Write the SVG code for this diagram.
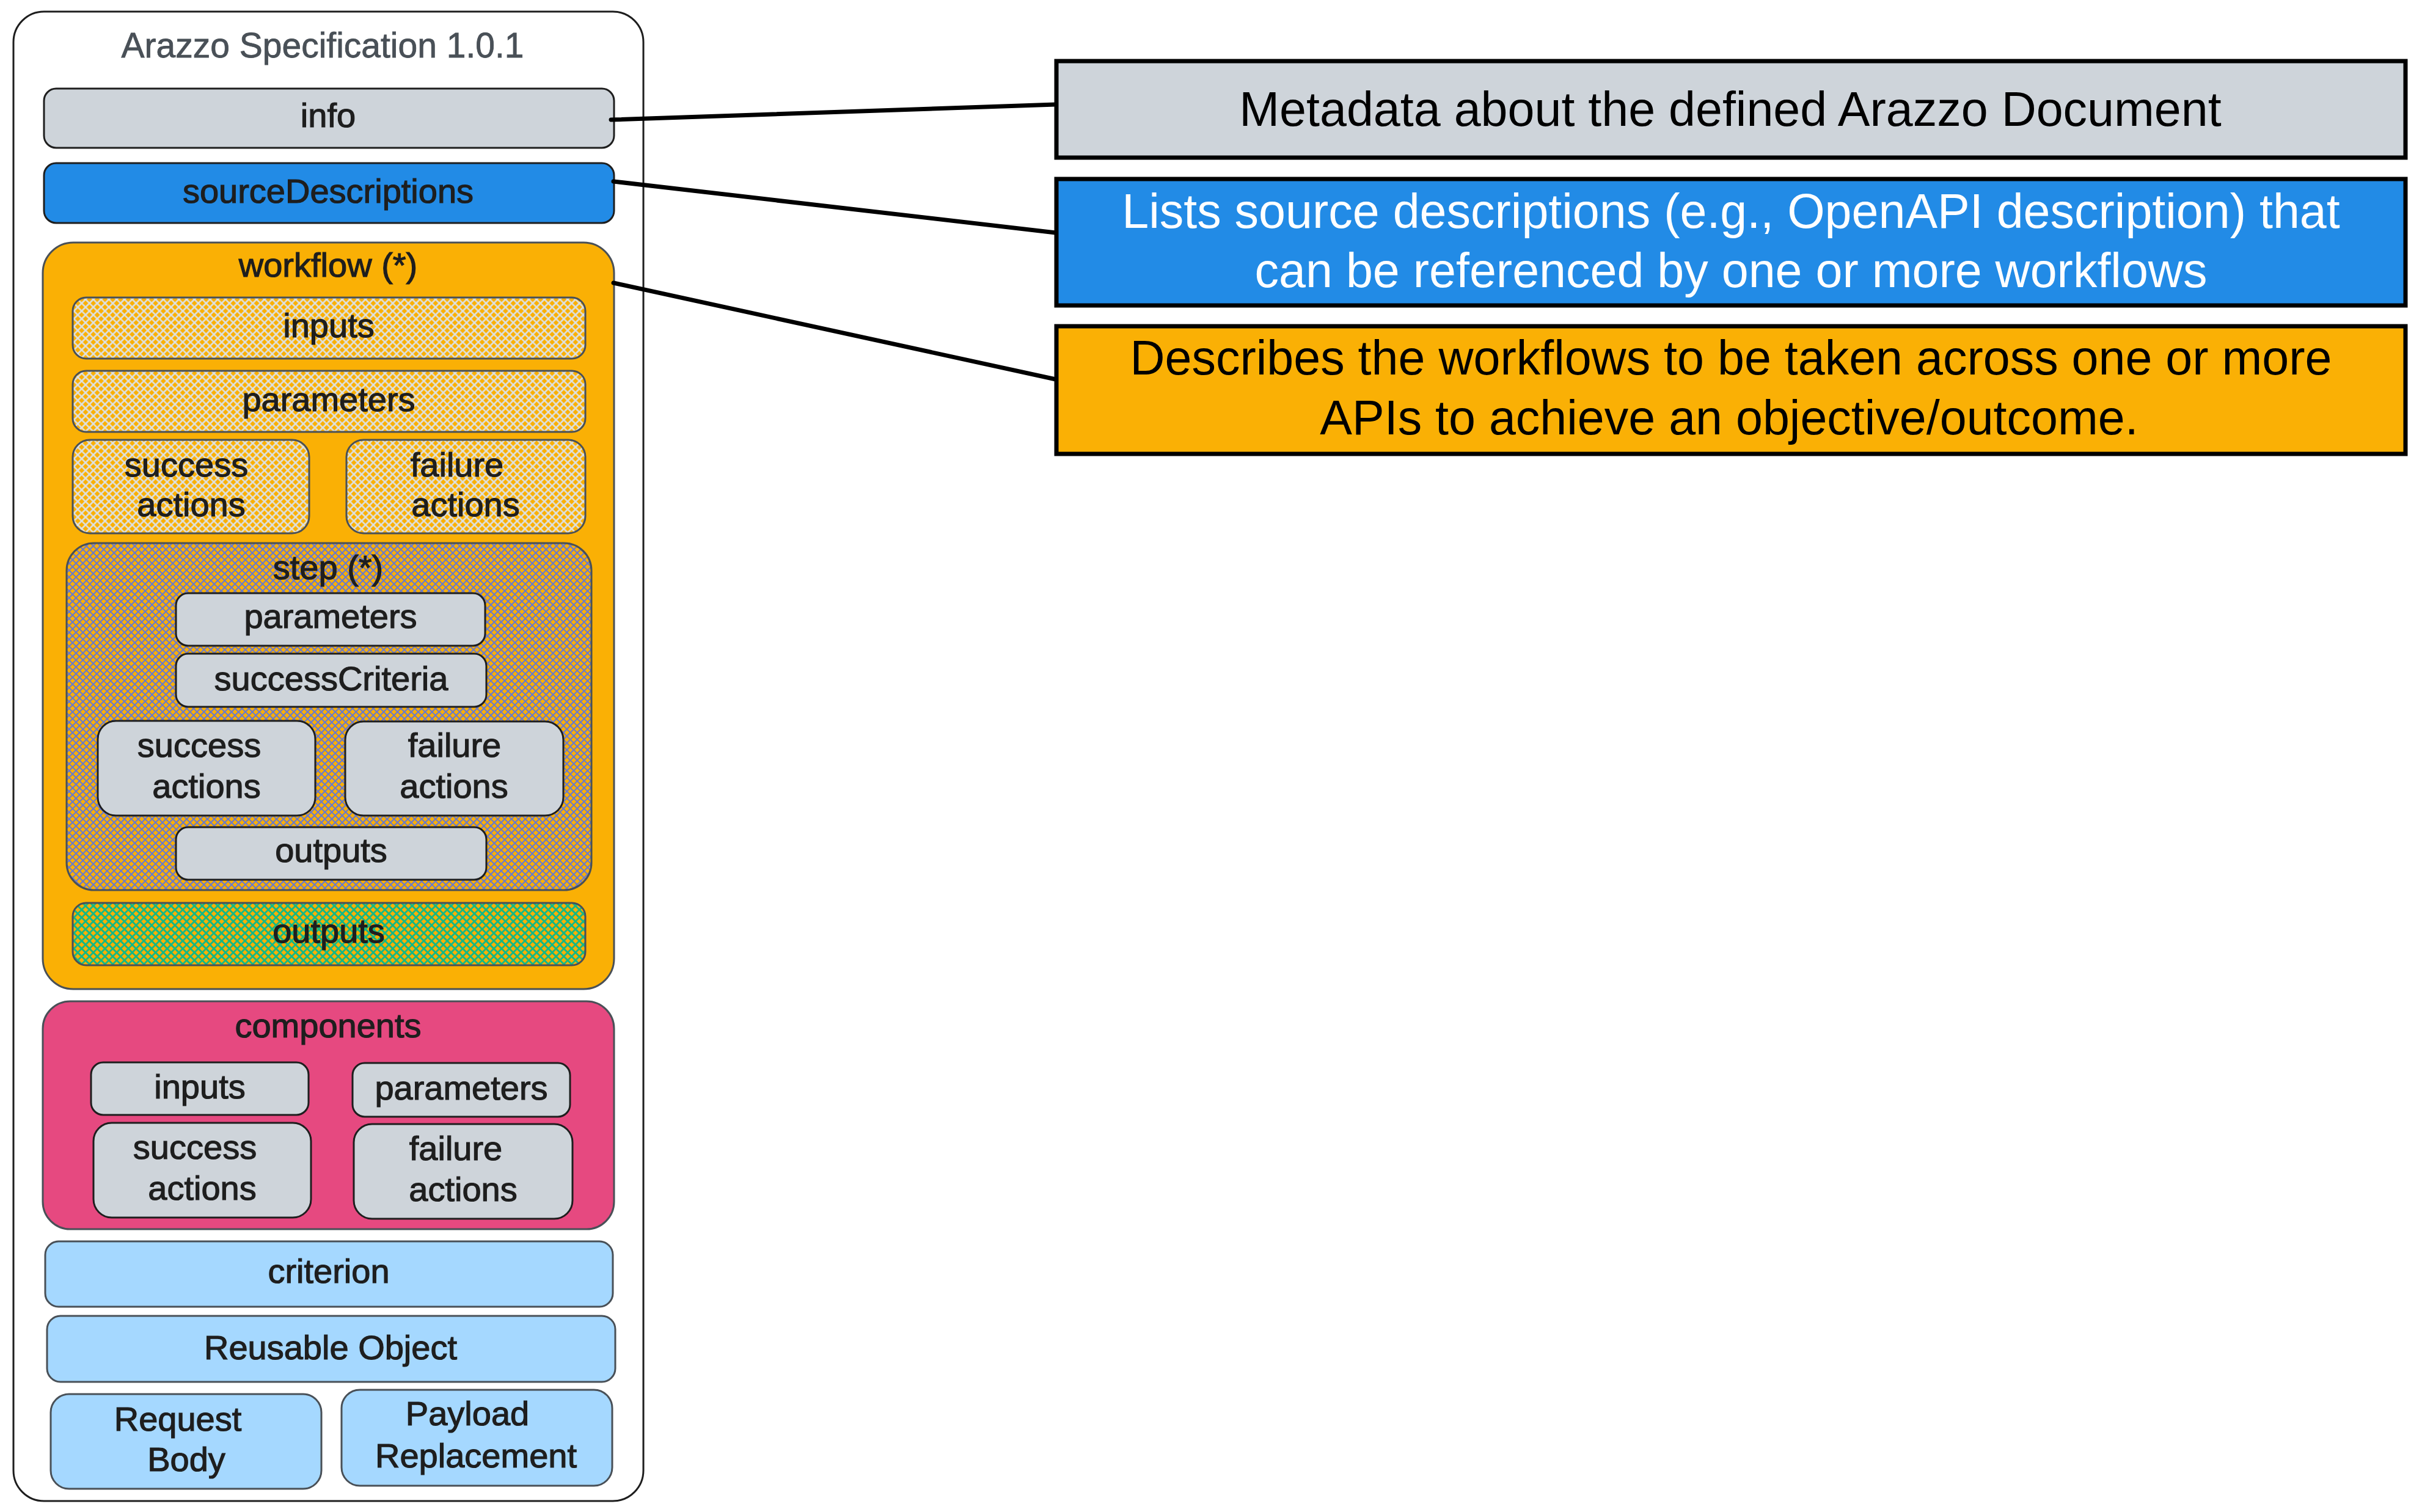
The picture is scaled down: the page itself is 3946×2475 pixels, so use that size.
<svg xmlns="http://www.w3.org/2000/svg" width="3946" height="2475" viewBox="0 0 3946 2475">
<defs>
<style>
.hand{font-family:"Liberation Sans",Arial,sans-serif;font-size:56px;fill:#1e1e1e;stroke:#1e1e1e;stroke-width:1.2;text-anchor:middle}
.title{font-family:"Liberation Sans",Arial,sans-serif;font-size:57px;fill:#495057;stroke:#495057;stroke-width:0.8;text-anchor:middle}
.note{font-family:"Liberation Sans",Arial,sans-serif;font-size:79px;text-anchor:middle}
.box{stroke:#1e1e1e;stroke-width:3}
.hbox{stroke:#495057;stroke-width:3}
.grey{fill:#ced4da}
.blue{fill:#228be6}
.yellow{fill:#fab005}
.pink{fill:#e64980}
.light{fill:#a5d8ff}
.callout{stroke:#000;stroke-width:7}
.conn{stroke:#000;stroke-width:7;fill:none;stroke-linecap:round}
</style>
<pattern id="hatchGrey" width="9" height="9" patternUnits="userSpaceOnUse" patternTransform="rotate(45)">
<rect width="9" height="9" fill="#fab005"/>
<path d="M0 4.5H9M4.5 0V9" stroke="#dde2e6" stroke-width="2.6"/>
</pattern>
<pattern id="hatchBlue" width="8" height="8" patternUnits="userSpaceOnUse" patternTransform="rotate(45)">
<rect width="8" height="8" fill="#fab005"/>
<path d="M0 4H8M4 0V8" stroke="#4c6ef5" stroke-width="2.2" stroke-opacity="0.85"/>
</pattern>
<pattern id="hatchGreen" width="9" height="9" patternUnits="userSpaceOnUse" patternTransform="rotate(45)">
<rect width="9" height="9" fill="#fab005"/>
<path d="M0 4.5H9M4.5 0V9" stroke="#12b886" stroke-width="2.8"/>
</pattern>
</defs>
<rect width="3946" height="2475" fill="#ffffff"/>

<g id="spec">
<rect x="22" y="19" width="1031" height="2438" rx="50" fill="#ffffff" class="box"/>
<text class="title" x="528" y="94">Arazzo Specification 1.0.1</text>
</g>

<g id="info">
<rect x="72" y="145" width="933" height="97" rx="20" class="box grey"/>
<text class="hand" x="537" y="208">info</text>
</g>

<g id="sourceDescriptions">
<rect x="72" y="267" width="933" height="98" rx="20" class="box blue"/>
<text class="hand" x="537" y="332">sourceDescriptions</text>
</g>

<g id="workflow">
<rect x="70" y="397" width="935" height="1222" rx="50" class="hbox yellow"/>
<text class="hand" x="537" y="453">workflow (*)</text>
</g>

<g id="wf-inputs">
<rect x="119" y="487" width="839" height="100" rx="22" class="hbox" fill="url(#hatchGrey)"/>
<text class="hand" x="538" y="552">inputs</text>
</g>

<g id="wf-parameters">
<rect x="119" y="607" width="839" height="100" rx="22" class="hbox" fill="url(#hatchGrey)"/>
<text class="hand" x="538" y="673">parameters</text>
</g>

<g id="wf-success-actions">
<rect x="119" y="720" width="387" height="153" rx="28" class="hbox" fill="url(#hatchGrey)"/>
<text class="hand" x="305" y="780">success</text>
<text class="hand" x="313" y="845">actions</text>
</g>

<g id="wf-failure-actions">
<rect x="567" y="720" width="391" height="153" rx="28" class="hbox" fill="url(#hatchGrey)"/>
<text class="hand" x="748" y="780">failure</text>
<text class="hand" x="762" y="845">actions</text>
</g>

<g id="step">
<rect x="109" y="889" width="859" height="568" rx="45" class="hbox" fill="url(#hatchBlue)"/>
<text class="hand" x="537" y="948">step (*)</text>
</g>

<g id="step-parameters">
<rect x="288" y="971" width="506" height="86" rx="20" class="box grey"/>
<text class="hand" x="541" y="1028">parameters</text>
</g>

<g id="step-successCriteria">
<rect x="288" y="1070" width="508" height="87" rx="20" class="box grey"/>
<text class="hand" x="542" y="1130">successCriteria</text>
</g>

<g id="step-success-actions">
<rect x="160" y="1180" width="356" height="155" rx="30" class="box grey"/>
<text class="hand" x="326" y="1239">success</text>
<text class="hand" x="338" y="1306">actions</text>
</g>

<g id="step-failure-actions">
<rect x="565" y="1181" width="357" height="154" rx="30" class="box grey"/>
<text class="hand" x="744" y="1239">failure</text>
<text class="hand" x="743" y="1306">actions</text>
</g>

<g id="step-outputs">
<rect x="288" y="1354" width="508" height="86" rx="20" class="box grey"/>
<text class="hand" x="542" y="1411">outputs</text>
</g>

<g id="wf-outputs">
<rect x="119" y="1478" width="839" height="102" rx="22" class="hbox" fill="url(#hatchGreen)"/>
<text class="hand" x="538" y="1543">outputs</text>
</g>

<g id="components">
<rect x="70" y="1639" width="935" height="373" rx="45" class="hbox pink"/>
<text class="hand" x="537" y="1698">components</text>
</g>

<g id="comp-inputs">
<rect x="149" y="1739" width="356" height="86" rx="20" class="box grey"/>
<text class="hand" x="327" y="1798">inputs</text>
</g>

<g id="comp-parameters">
<rect x="577" y="1740" width="356" height="88" rx="20" class="box grey"/>
<text class="hand" x="755" y="1800">parameters</text>
</g>

<g id="comp-success-actions">
<rect x="153" y="1838" width="356" height="155" rx="30" class="box grey"/>
<text class="hand" x="319" y="1897">success</text>
<text class="hand" x="331" y="1964">actions</text>
</g>

<g id="comp-failure-actions">
<rect x="579" y="1840" width="358" height="155" rx="30" class="box grey"/>
<text class="hand" x="746" y="1899">failure</text>
<text class="hand" x="758" y="1966">actions</text>
</g>

<g id="criterion">
<rect x="74" y="2032" width="929" height="107" rx="22" class="hbox light"/>
<text class="hand" x="538" y="2100">criterion</text>
</g>

<g id="reusable-object">
<rect x="77" y="2154" width="930" height="108" rx="22" class="hbox light"/>
<text class="hand" x="541" y="2225">Reusable Object</text>
</g>

<g id="request-body">
<rect x="83" y="2282" width="443" height="155" rx="30" class="hbox light"/>
<text class="hand" x="291" y="2342">Request</text>
<text class="hand" x="305" y="2408">Body</text>
</g>

<g id="payload-replacement">
<rect x="559" y="2275" width="443" height="157" rx="30" class="hbox light"/>
<text class="hand" x="765" y="2333">Payload</text>
<text class="hand" x="779" y="2402">Replacement</text>
</g>

<g id="note-info">
<rect x="1729" y="100" width="2208" height="158" class="callout grey"/>
<text class="note" x="2832" y="206" fill="#000000">Metadata about the defined Arazzo Document</text>
</g>

<g id="note-sourceDescriptions">
<rect x="1729" y="293" width="2208" height="207" class="callout blue"/>
<text class="note" x="2833" y="373" fill="#ffffff">Lists source descriptions (e.g., OpenAPI description) that</text>
<text class="note" x="2833" y="470" fill="#ffffff">can be referenced by one or more workflows</text>
</g>

<g id="note-workflow">
<rect x="1729" y="534" width="2208" height="209" class="callout yellow"/>
<text class="note" x="2833" y="613" fill="#000000">Describes the workflows to be taken across one or more</text>
<text class="note" x="2830" y="711" fill="#000000">APIs to achieve an objective/outcome.</text>
</g>

<g id="connectors">
<line class="conn" x1="1000" y1="196" x2="1728" y2="171"/>
<line class="conn" x1="1004" y1="297" x2="1728" y2="381"/>
<line class="conn" x1="1004" y1="463" x2="1728" y2="621"/>
</g>
</svg>
